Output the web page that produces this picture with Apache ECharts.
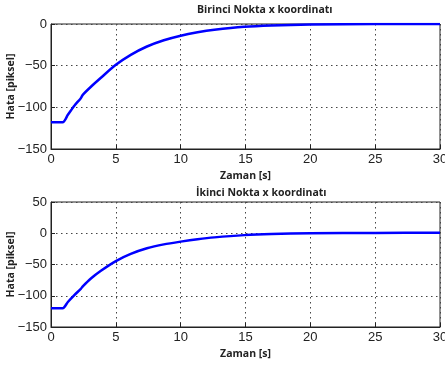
<!DOCTYPE html>
<html>
<head>
<meta charset="utf-8">
<script src="https://cdn.jsdelivr.net/npm/echarts@6/dist/echarts.min.js"></script>
<style>
  html, body { margin: 0; padding: 0; background: #fff; }
  #chart { width: 445px; height: 369px; }
</style>
</head>
<body>
<div id="chart"></div>
<script>
// zaman (s)
const zaman = [0, 0.9, 1.3, 1.8, 2.3, 2.45, 3.1, 3.85, 5, 6.15, 7.4, 8.7, 10, 11.3, 12.6, 14.9, 17, 20, 25, 30];
// birinci nokta hata
const hata1 = [-118, -118, -109, -98, -89, -85, -75, -64.5, -49, -37, -27, -19.5, -14, -10, -7, -3.4, -1.8, -0.7, -0.1, 0];
// ikinci nokta hata
const hata2 = [-120, -120, -110, -99, -89, -85, -72, -60, -44.5, -33, -24, -17.8, -13.4, -9.6, -6.6, -3, -1.2, 0, 0.5, 0.8];

const xTicks = [0, 30, 5];
const yTicks1 = [-150, 0, 50];
const yTicks2 = [-150, 50, 50];

const titles = ["Birinci Nokta x koordinatı", "İkinci Nokta x koordinatı"];

const pair = (xs, ys) => xs.map((x, i) => [x, ys[i]]);

const labelFont = { fontFamily: "Liberation Sans", fontSize: 13, color: "#222" };
const nameFont = { fontFamily: "Open Sans", fontSize: 10.5, fontWeight: "bold", color: "#222" };
const dotted = { color: "#444", type: [1.5, 3.5], width: 1 };

const makeX = (gridIndex) => ({
  type: "value",
  gridIndex,
  min: xTicks[0],
  max: xTicks[1],
  interval: xTicks[2],
  name: "Zaman [s]",
  nameLocation: "middle",
  nameGap: 22,
  nameMoveOverlap: false,
  nameTextStyle: nameFont,
  axisLine: { show: true, onZero: false, lineStyle: { color: "#222" } },
  axisTick: { show: true, inside: true, length: 4, lineStyle: { color: "#222" } },
  axisLabel: Object.assign({ margin: 4 }, labelFont),
  splitLine: { show: true, lineStyle: dotted },
});

const makeY = (gridIndex, t) => ({
  type: "value",
  gridIndex,
  min: t[0],
  max: t[1],
  interval: t[2],
  name: "Hata [piksel]",
  nameLocation: "middle",
  nameGap: 34,
  nameMoveOverlap: false,
  nameTextStyle: nameFont,
  axisLine: { show: true, onZero: false, lineStyle: { color: "#222" } },
  axisTick: { show: true, inside: true, length: 4, lineStyle: { color: "#222" } },
  axisLabel: Object.assign({ margin: 4, formatter: (v) => String(v).replace("-", "\u2212") }, labelFont),
  splitLine: { show: true, lineStyle: dotted },
});

const chart = echarts.init(document.getElementById("chart"), null, { renderer: "canvas" });

const gridBase = {
  left: 51, right: 5, height: 125, show: true,
  borderColor: "#222", borderWidth: 1,
  containLabel: false, outerBoundsMode: "none",
};

chart.setOption({
  animation: false,
  backgroundColor: "#fff",
  title: [
    { text: titles[0], left: 192, top: 0, textStyle: Object.assign({}, nameFont) },
    { text: titles[1], left: 191, top: 183, textStyle: Object.assign({}, nameFont) },
  ],
  grid: [
    Object.assign({ top: 24 }, gridBase),
    Object.assign({ top: 202 }, gridBase),
  ],
  xAxis: [makeX(0), makeX(1)],
  yAxis: [makeY(0, yTicks1), makeY(1, yTicks2)],
  series: [
    {
      type: "line",
      xAxisIndex: 0,
      yAxisIndex: 0,
      data: pair(zaman, hata1),
      smooth: 0.25,
      showSymbol: false,
      lineStyle: { color: "#0000ff", width: 2.5 },
    },
    {
      type: "line",
      xAxisIndex: 1,
      yAxisIndex: 1,
      data: pair(zaman, hata2),
      smooth: 0.25,
      showSymbol: false,
      lineStyle: { color: "#0000ff", width: 2.5 },
    },
  ],
});
</script>
</body>
</html>
